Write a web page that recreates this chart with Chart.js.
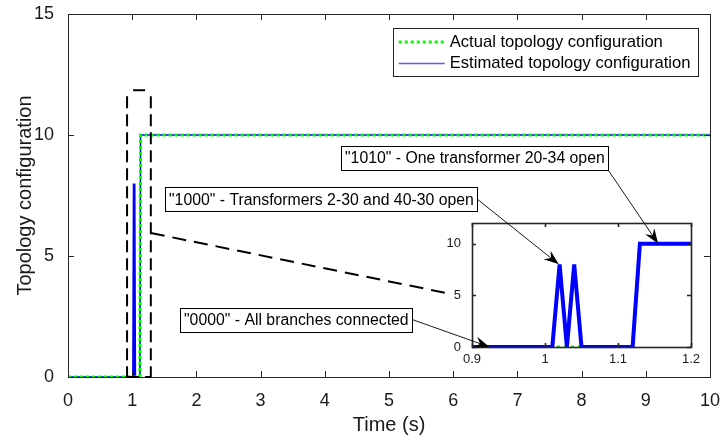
<!DOCTYPE html>
<html>
<head>
<meta charset="utf-8">
<script src="https://cdn.jsdelivr.net/npm/chart.js@4.4.1/dist/chart.umd.min.js"></script>
<style>
  body { margin: 0; background: #fff; }
  #wrap { position: relative; width: 720px; height: 441px; }
  #wrap canvas { position: absolute; left: 0; top: 0; }
  #zoomChart { pointer-events: none; }
</style>
</head>
<body>
<div id="wrap">
  <canvas id="myChart" width="720" height="441"></canvas>
  <canvas id="zoomChart" width="720" height="441"></canvas>
</div>
<script>
"use strict";
// configuracion real: salto de "0000" a "1010"
const tiempoReal = [0, 1.12, 1.13, 10];
const configReal = [0, 0, 10, 10];
// configuracion estimada: dos picos a "1000" antes del salto
const tiempoEst = [0, 1.01, 1.02, 1.03, 1.04, 1.05, 1.12, 1.13, 10];
const configEst = [0, 0, 8, 0, 8, 0, 0, 10, 10];

const etiquetas = ["Actual topology configuration", "Estimated topology configuration"];

const ticksX = [0, 1, 2, 3, 4, 5, 6, 7, 8, 9, 10];
const ticksY = [0, 5, 10, 15];
const ticksZoomX = [0.9, 1, 1.1, 1.2];
const ticksZoomY = [0, 5, 10];

const notas = [
  { texto: '"1010" - One transformer 20-34 open', x: 4.26, y: 9.06, punta: [1.155, 10], esquina: true },
  { texto: '"1000" - Transformers 2-30 and 40-30 open', x: 1.51, y: 7.34, punta: [1.019, 8] },
  { texto: '"0000" - All branches connected', x: 1.74, y: 2.37, punta: [0.924, 0] },
];

const fuente = '"Liberation Sans", Arial, Helvetica, sans-serif';
const verde = "#00ff00";
const azul = "#0000ff";
const ejes = "#262626";

Chart.defaults.font.family = fuente;
Chart.defaults.color = "#1a1a1a";

function puntos(xs, ys) {
  return xs.map((t, i) => ({ x: t, y: ys[i] }));
}

function fijarTicks(lista) {
  return function (scale) {
    scale.ticks = lista.map(v => ({ value: v }));
  };
}

// sin margen extra por las etiquetas de los extremos
function sinMargen(scale) {
  scale.paddingLeft = 0;
  scale.paddingRight = 0;
  scale.paddingTop = 0;
  scale.paddingBottom = 0;
}

// marco y ticks hacia dentro, estilo matlab
function marco(chart, largo, grosor) {
  const ctx = chart.ctx;
  const a = chart.chartArea;
  const sx = chart.scales.x, sy = chart.scales.y;
  ctx.save();
  ctx.strokeStyle = ejes;
  ctx.lineWidth = grosor;
  ctx.beginPath();
  for (let t of sx.ticks) {
    const px = Math.round(sx.getPixelForValue(t.value)) + 0.5;
    ctx.moveTo(px, a.bottom); ctx.lineTo(px, a.bottom - largo);
    ctx.moveTo(px, a.top); ctx.lineTo(px, a.top + largo);
  }
  for (let t of sy.ticks) {
    const py = Math.round(sy.getPixelForValue(t.value)) + 0.5;
    ctx.moveTo(a.left, py); ctx.lineTo(a.left + largo, py);
    ctx.moveTo(a.right, py); ctx.lineTo(a.right - largo, py);
  }
  ctx.stroke();
  ctx.strokeRect(Math.round(a.left) + 0.5, Math.round(a.top) + 0.5,
                 Math.round(a.right - a.left), Math.round(a.bottom - a.top));
  ctx.restore();
}

function flecha(ctx, x0, y0, x1, y1) {
  const ang = Math.atan2(y1 - y0, x1 - x0);
  ctx.beginPath();
  ctx.moveTo(x0, y0);
  ctx.lineTo(x1 - 8 * Math.cos(ang), y1 - 8 * Math.sin(ang));
  ctx.stroke();
  ctx.save();
  ctx.translate(x1, y1);
  ctx.rotate(ang);
  ctx.beginPath();
  ctx.moveTo(0, 0);
  ctx.lineTo(-15, -5.5);
  ctx.lineTo(-10, 0);
  ctx.lineTo(-15, 5.5);
  ctx.closePath();
  ctx.fill();
  ctx.restore();
}

function tramo(ctx, x0, y0, x1, y1, desfase) {
  ctx.lineDashOffset = desfase;
  ctx.beginPath();
  ctx.moveTo(x0, y0);
  ctx.lineTo(x1, y1);
  ctx.stroke();
}

const plugPrincipal = {
  id: "principal",
  afterDatasetsDraw(chart) {
    marco(chart, 6, 1);
  },
  afterDraw(chart) {
    const ctx = chart.ctx;
    const sx = chart.scales.x, sy = chart.scales.y;
    ctx.save();
    // recuadro de la zona ampliada y linea hacia el detalle
    ctx.strokeStyle = "#000";
    ctx.lineWidth = 2;
    ctx.setLineDash([12, 6]);
    const x0 = sx.getPixelForValue(0.92), x1 = sx.getPixelForValue(1.29);
    const y0 = sy.getPixelForValue(0), y1 = sy.getPixelForValue(11.85);
    tramo(ctx, x0, y1, x0, y0, 12);
    tramo(ctx, x1, y1, x1, y0, 12);
    tramo(ctx, x0, y1, x1, y1, 12);
    tramo(ctx, x0, y0, x1, y0, 0);
    ctx.setLineDash([14, 8]);
    tramo(ctx, x1, sy.getPixelForValue(5.95), sx.getPixelForValue(5.97), sy.getPixelForValue(3.43), 0);
    ctx.setLineDash([]);

    // leyenda
    const a = chart.chartArea;
    ctx.font = "16.6px " + fuente;
    const anchoTexto = Math.max(...etiquetas.map(t => ctx.measureText(t).width));
    const der = a.right - 12.5;
    const izq = der - (57 + anchoTexto + 7);
    const arriba = a.top + 13.5;
    ctx.fillStyle = "#fff";
    ctx.fillRect(izq, arriba, der - izq, 48.5);
    ctx.strokeStyle = ejes;
    ctx.lineWidth = 1;
    ctx.strokeRect(Math.round(izq) + 0.5, Math.round(arriba) + 0.5, Math.round(der - izq), 48);
    const filas = [arriba + 14.5, arriba + 36];
    const muestras = [
      { color: verde, ancho: 3, trazo: [3, 3] },
      { color: "#5a5aff", ancho: 1.5, trazo: [] },
    ];
    etiquetas.forEach((txt, i) => {
      const m = muestras[i];
      ctx.strokeStyle = m.color;
      ctx.lineWidth = m.ancho;
      ctx.setLineDash(m.trazo);
      ctx.beginPath();
      ctx.moveTo(izq + 6, filas[i]);
      ctx.lineTo(izq + 52, filas[i]);
      ctx.stroke();
      ctx.setLineDash([]);
      ctx.fillStyle = "#000";
      ctx.textBaseline = "middle";
      ctx.fillText(txt, izq + 57, filas[i]);
    });
    ctx.restore();
  },
};

let myChart = new Chart(document.getElementById("myChart"), {
  type: "line",
  data: {
    datasets: [
      {
        label: etiquetas[0],
        data: puntos(tiempoReal, configReal),
        borderColor: verde,
        borderWidth: 3,
        borderDash: [3, 3],
        pointRadius: 0,
        order: 0,
      },
      {
        label: etiquetas[1],
        data: puntos(tiempoEst, configEst),
        borderColor: azul,
        borderWidth: 1.5,
        pointRadius: 0,
        order: 1,
      },
    ],
  },
  options: {
    responsive: false,
    animation: false,
    events: [],
    layout: { padding: { left: 0, top: 14, right: 10, bottom: 0 } },
    plugins: { legend: { display: false }, tooltip: { enabled: false } },
    scales: {
      x: {
        type: "linear",
        min: 0,
        max: 10,
        afterBuildTicks: fijarTicks(ticksX),
        afterFit(s) { s.height = 64; sinMargen(s); },
        grid: { display: false },
        border: { display: false },
        ticks: { font: { size: 18 }, padding: 5, maxRotation: 0 },
        title: { display: true, text: "Time (s)", font: { size: 20 }, padding: { top: 0, bottom: 4 } },
      },
      y: {
        min: 0,
        max: 15,
        afterBuildTicks: fijarTicks(ticksY),
        afterFit(s) { s.width = 68; sinMargen(s); },
        grid: { display: false },
        border: { display: false },
        ticks: { font: { size: 18 }, padding: 6 },
        title: { display: true, text: "Topology configuration", font: { size: 20 }, padding: { top: 13, bottom: 0 } },
      },
    },
  },
  plugins: [plugPrincipal],
});

const plugDetalle = {
  id: "detalle",
  beforeDatasetsDraw(chart) {
    const a = chart.chartArea;
    chart.ctx.save();
    chart.ctx.fillStyle = "#fff";
    chart.ctx.fillRect(a.left, a.top, a.right - a.left, a.bottom - a.top);
    chart.ctx.restore();
  },
  afterDatasetsDraw(chart) {
    marco(chart, 4, 1.6);
  },
  afterDraw(chart) {
    // cuadros de texto con flechas hacia el detalle
    const ctx = chart.ctx;
    const mx = myChart.scales.x, my = myChart.scales.y;
    const zx = chart.scales.x, zy = chart.scales.y;
    ctx.save();
    ctx.font = "15.8px " + fuente;
    ctx.textBaseline = "middle";
    for (let n of notas) {
      const w = ctx.measureText(n.texto).width + 7;
      const h = 24;
      const x0 = Math.round(mx.getPixelForValue(n.x)) + 0.5;
      const yc = my.getPixelForValue(n.y);
      const y0 = Math.round(yc - h / 2) + 0.5;
      ctx.fillStyle = "#fff";
      ctx.fillRect(x0, y0, w, h);
      ctx.strokeStyle = "#000";
      ctx.lineWidth = 1;
      ctx.strokeRect(x0, y0, Math.round(w), h);
      ctx.fillStyle = "#000";
      ctx.fillText(n.texto, x0 + 3.5, yc + 1);
      const cola = n.esquina ? [x0 + Math.round(w), y0 + h] : [x0 + Math.round(w), yc];
      ctx.lineWidth = 0.9;
      flecha(ctx, cola[0], cola[1], zx.getPixelForValue(n.punta[0]), zy.getPixelForValue(n.punta[1]));
    }
    ctx.restore();
  },
};

let zoomChart = new Chart(document.getElementById("zoomChart"), {
  type: "line",
  data: {
    datasets: [
      {
        label: etiquetas[0],
        data: puntos(tiempoReal, configReal),
        borderColor: verde,
        borderWidth: 3,
        borderDash: [3, 4],
        pointRadius: 0,
        order: 1,
      },
      {
        label: etiquetas[1],
        data: puntos(tiempoEst, configEst),
        borderColor: azul,
        borderWidth: 4,
        pointRadius: 0,
        order: 0,
      },
    ],
  },
  options: {
    responsive: false,
    animation: false,
    events: [],
    layout: { padding: { left: 447, top: 223, right: 29, bottom: 72 } },
    plugins: { legend: { display: false }, tooltip: { enabled: false } },
    scales: {
      x: {
        type: "linear",
        min: 0.9,
        max: 1.2,
        afterBuildTicks: fijarTicks(ticksZoomX),
        afterFit(s) { s.height = 22; sinMargen(s); },
        grid: { display: false },
        border: { display: false },
        ticks: {
          font: { size: 13 },
          padding: -3,
          maxRotation: 0,
          callback: v => String(Math.round(v * 10) / 10),
        },
      },
      y: {
        min: 0,
        max: 12,
        afterBuildTicks: fijarTicks(ticksZoomY),
        afterFit(s) { s.width = 25; sinMargen(s); },
        grid: { display: false },
        border: { display: false },
        ticks: { font: { size: 13 }, padding: 3 },
      },
    },
  },
  plugins: [plugDetalle],
});
</script>
</body>
</html>
